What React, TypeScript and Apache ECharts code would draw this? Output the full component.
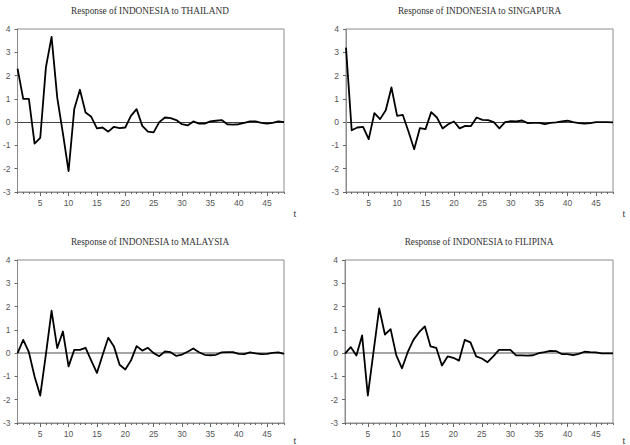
import React, { useEffect, useRef } from "react";
import * as echarts from "echarts";

const periods = [
  "1", "2", "3", "4", "5", "6", "7", "8", "9", "10", "11", "12",
  "13", "14", "15", "16", "17", "18", "19", "20", "21", "22", "23", "24",
  "25", "26", "27", "28", "29", "30", "31", "32", "33", "34", "35", "36",
  "37", "38", "39", "40", "41", "42", "43", "44", "45", "46", "47", "48",
];

const thailand = [
  2.3, 1.0, 1.0, -0.92, -0.68, 2.35, 3.66, 1.05, -0.48, -2.1, 0.56, 1.39,
  0.41, 0.23, -0.27, -0.23, -0.41, -0.2, -0.26, -0.23, 0.27, 0.56, -0.16, -0.41,
  -0.44, 0.0, 0.2, 0.17, 0.09, -0.09, -0.14, 0.03, -0.06, -0.06, 0.03, 0.06,
  0.09, -0.09, -0.11, -0.09, -0.03, 0.03, 0.03, -0.03, -0.06, -0.03, 0.03, 0.0,
];

const singapura = [
  3.2, -0.35, -0.23, -0.2, -0.73, 0.39, 0.13, 0.51, 1.49, 0.27, 0.31, -0.4,
  -1.16, -0.26, -0.3, 0.43, 0.2, -0.27, -0.09, 0.03, -0.27, -0.16, -0.17, 0.2,
  0.1, 0.09, 0.0, -0.27, 0.0, 0.04, 0.03, 0.07, -0.04, -0.03, -0.03, -0.09,
  -0.03, -0.01, 0.03, 0.06, 0.0, -0.04, -0.06, -0.04, 0.0, 0.0, 0.0, -0.01,
];

const malaysia = [
  0.0, 0.57, 0.04, -1.0, -1.82, -0.05, 1.82, 0.22, 0.93, -0.57, 0.14, 0.14,
  0.23, -0.32, -0.85, -0.08, 0.66, 0.29, -0.5, -0.7, -0.32, 0.3, 0.11, 0.23,
  0.0, -0.13, 0.07, 0.04, -0.12, -0.06, 0.06, 0.2, 0.04, -0.07, -0.09, -0.07,
  0.03, 0.04, 0.04, -0.03, -0.04, 0.03, -0.01, -0.04, -0.03, 0.01, 0.03, -0.03,
];

const filipina = [
  -0.02, 0.26, -0.1, 0.76, -1.82, 0.05, 1.92, 0.8, 1.03, -0.1, -0.65, 0.04,
  0.57, 0.9, 1.15, 0.29, 0.23, -0.53, -0.14, -0.2, -0.32, 0.57, 0.46, -0.14,
  -0.23, -0.39, -0.14, 0.14, 0.14, 0.14, -0.1, -0.1, -0.11, -0.09, 0.0, 0.04,
  0.1, 0.09, -0.04, -0.04, -0.09, -0.03, 0.06, 0.04, 0.03, -0.01, -0.01, -0.01,
];

const titles = [
  "Response of INDONESIA to THAILAND",
  "Response of INDONESIA to SINGAPURA",
  "Response of INDONESIA to MALAYSIA",
  "Response of INDONESIA to FILIPINA",
];

const seriesData = [thailand, singapura, malaysia, filipina];

const layouts = [
  { left: 16, top: 29, width: 268, height: 163, zeroColor: "#444", zeroWidth: 1 },
  { left: 346, top: 29, width: 267, height: 163, zeroColor: "#444", zeroWidth: 1 },
  { left: 16, top: 260, width: 268, height: 163, zeroColor: "#888", zeroWidth: 1.6 },
  { left: 345, top: 260, width: 268, height: 163, zeroColor: "#888", zeroWidth: 1.6 },
];

const tickFont = "Liberation Sans";
const every5 = (_i: number, v: string) => Number(v) % 5 === 0;

export default function App() {
  const ref = useRef<HTMLDivElement>(null);

  useEffect(() => {
    if (!ref.current) return;
    const chart = echarts.init(ref.current, undefined, { renderer: "svg" });

    const grid: any[] = [];
    const xAxis: any[] = [];
    const yAxis: any[] = [];
    const series: any[] = [];
    const graphic: any[] = [];

    layouts.forEach((l, i) => {
      grid.push({
        left: l.left,
        top: l.top,
        width: l.width,
        height: l.height,
        show: true,
        borderColor: "#8c8c8c",
        borderWidth: 1,
        backgroundColor: "transparent",
      });
      xAxis.push({
        type: "category",
        gridIndex: i,
        data: periods,
        boundaryGap: false,
        position: "bottom",
        axisLine: { show: true, onZero: false, lineStyle: { color: "#8c8c8c", width: 1 } },
        axisTick: { show: true, interval: 0, length: 2, lineStyle: { color: "#666" } },
        axisLabel: { show: false },
        splitLine: { show: false },
      });
      xAxis.push({
        type: "category",
        gridIndex: i,
        data: periods,
        boundaryGap: false,
        position: "bottom",
        axisLine: { show: false, onZero: false },
        axisTick: { show: true, interval: every5, length: 4, lineStyle: { color: "#666" } },
        axisLabel: {
          show: true,
          interval: every5,
          margin: 6,
          fontSize: 8.5,
          color: "#555",
          fontFamily: tickFont,
        },
        splitLine: { show: false },
      });
      // split lines at -3..4: only the one at 0 is visible (zero line)
      const splitColors = [
        "rgba(0,0,0,0)", "rgba(0,0,0,0)", "rgba(0,0,0,0)", l.zeroColor,
        "rgba(0,0,0,0)", "rgba(0,0,0,0)", "rgba(0,0,0,0)", "rgba(0,0,0,0)",
      ];
      yAxis.push({
        type: "value",
        gridIndex: i,
        min: -3,
        max: 4,
        interval: 1,
        axisLine: { show: true, onZero: false, lineStyle: { color: "#8c8c8c", width: 1 } },
        axisTick: { show: true, length: 3, lineStyle: { color: "#666" } },
        axisLabel: { margin: 7, fontSize: 8.5, color: "#555", fontFamily: tickFont },
        splitLine: {
          show: true,
          lineStyle: { color: splitColors, width: l.zeroWidth, type: "solid" },
        },
      });
      series.push({
        type: "line",
        xAxisIndex: 2 * i + 1,
        yAxisIndex: i,
        data: seriesData[i],
        showSymbol: false,
        symbol: "none",
        z: 3,
        lineStyle: { color: "#000", width: 1.8, join: "round" },
      });
      graphic.push({
        type: "text",
        x: l.left + l.width / 2,
        y: l.top - 18,
        style: {
          text: titles[i],
          textAlign: "center",
          textVerticalAlign: "middle",
          font: '9.3px "Liberation Serif"',
          fill: "#333",
        },
      });
      graphic.push({
        type: "text",
        x: l.left + l.width + 11,
        y: i < 2 ? l.top + l.height + 21 : l.top + l.height + 17,
        style: {
          text: "t",
          textAlign: "center",
          textVerticalAlign: "middle",
          font: '10px "Liberation Serif"',
          fill: "#333",
        },
      });
    });

    chart.setOption({
      animation: false,
      backgroundColor: "#fff",
      grid,
      xAxis,
      yAxis,
      series,
      graphic,
    });

    return () => chart.dispose();
  }, []);

  return (
    <div
      ref={ref}
      style={{ position: "absolute", left: 0, top: 0, width: 630, height: 445 }}
    />
  );
}
